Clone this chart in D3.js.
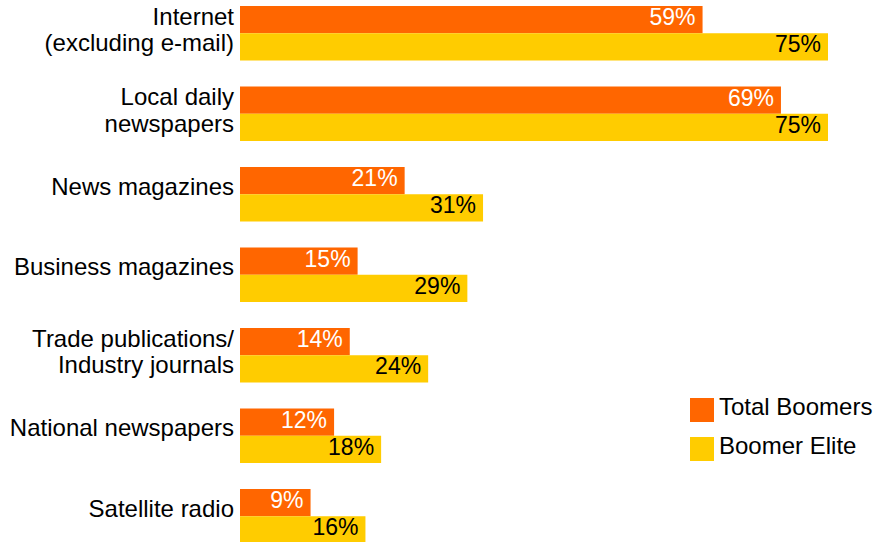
<!DOCTYPE html>
<html>
<head>
<meta charset="utf-8">
<script src="https://cdn.jsdelivr.net/npm/d3@7"></script>
<style>
  body { margin: 0; background: #fff; }
  text { font-family: "Liberation Sans", Arial, sans-serif; }
</style>
</head>
<body>
<div id="chart"></div>
<script>
var fw = 874;
var fh = 542;

// data
var categories = [
  ["Internet", "(excluding e-mail)"],
  ["Local daily", "newspapers"],
  ["News magazines"],
  ["Business magazines"],
  ["Trade publications/", "Industry journals"],
  ["National newspapers"],
  ["Satellite radio"]
];
var seriesNames = ["Total Boomers", "Boomer Elite"];
var totalBoomers = [59, 69, 21, 15, 14, 12, 9];
var boomerElite = [75, 75, 31, 29, 24, 18, 16];

var colors = ["#FF6600", "#FFCC00"];
var labelColors = ["#fff", "#000"];
var valSize = 23;
var catSize = 24;

var rows = categories.map(function(c, i) {
  return { key: i, lines: c, vals: [totalBoomers[i], boomerElite[i]] };
});

var svg = d3.select("#chart")
    .append("svg")
    .attr("width", fw)
    .attr("height", fh);

var x = d3.scaleLinear()
    .domain([0, 75])
    .range([240, 828]);

var y = d3.scaleBand()
    .domain(rows.map(function(d) { return d.key; }))
    .range([6, 543.5])
    .paddingInner(0.323)
    .paddingOuter(0);

var ySub = d3.scaleBand()
    .domain([0, 1])
    .range([0, y.bandwidth()]);

var groups = svg.selectAll("g.row")
    .data(rows)
    .enter()
    .append("g")
    .attr("class", "row")
    .attr("transform", function(d) { return "translate(0," + y(d.key) + ")"; });

groups.selectAll("rect")
    .data(function(d) { return d.vals; })
    .enter()
    .append("rect")
    .attr("x", x(0))
    .attr("y", function(d, i) { return ySub(i); })
    .attr("width", function(d) { return x(d) - x(0); })
    .attr("height", ySub.bandwidth())
    .attr("fill", function(d, i) { return colors[i]; });

groups.selectAll("text.val")
    .data(function(d) { return d.vals; })
    .enter()
    .append("text")
    .attr("class", "val")
    .attr("x", function(d) { return x(d) - 7; })
    .attr("y", function(d, i) { return ySub(i) + ySub.bandwidth() / 2 + 5.5; })
    .attr("text-anchor", "end")
    .style("font-size", valSize + "px")
    .attr("fill", function(d, i) { return labelColors[i]; })
    .text(function(d) { return d + "%"; });

// category labels
var mid = y.bandwidth() / 2;
groups.append("text")
    .attr("class", "cat")
    .attr("text-anchor", "end")
    .style("font-size", catSize + "px")
    .attr("fill", "#000")
    .each(function(d) {
      var t = d3.select(this);
      var n = d.lines.length;
      d.lines.forEach(function(line, i) {
        var base = n == 1 ? mid + 0.5 : mid - 8.5 + i * 26.5;
        t.append("tspan")
          .attr("x", 234)
          .attr("y", base)
          .text(line);
      });
    });

// legend
var legend = svg.append("g")
    .attr("transform", "translate(690,398)");

var li = legend.selectAll("g")
    .data(seriesNames)
    .enter()
    .append("g")
    .attr("transform", function(d, i) { return "translate(0," + (i * 39) + ")"; });

li.append("rect")
    .attr("width", 24)
    .attr("height", 24)
    .attr("fill", function(d, i) { return colors[i]; });

li.append("text")
    .attr("x", 29)
    .attr("y", 16.5)
    .style("font-size", catSize + "px")
    .attr("fill", "#000")
    .text(function(d) { return d; });
</script>
</body>
</html>
